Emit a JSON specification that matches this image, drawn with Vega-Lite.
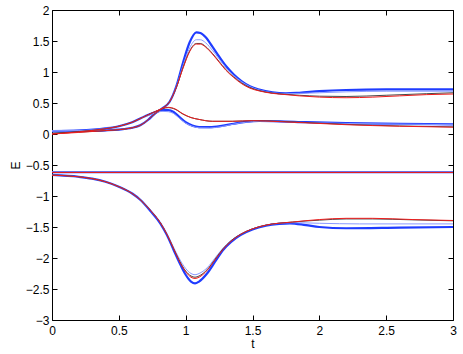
{
  "$schema": "https://vega.github.io/schema/vega-lite/v6.json",
  "width": 401,
  "height": 310,
  "autosize": "none",
  "padding": {"left": 52, "top": 10, "right": 10, "bottom": 34},
  "config": {"view": {"stroke": null}, "font": "Liberation Sans"},
  "data": {"values": [
    {"g":"A","s":"blue","t":0,"E":0.045},{"g":"A","s":"blue","t":0.2,"E":0.05},{"g":"A","s":"blue","t":0.4,"E":0.06},{"g":"A","s":"blue","t":0.5,"E":0.072},{"g":"A","s":"blue","t":0.6,"E":0.1},{"g":"A","s":"blue","t":0.66,"E":0.14},{"g":"A","s":"blue","t":0.72,"E":0.23},{"g":"A","s":"blue","t":0.77,"E":0.33},{"g":"A","s":"blue","t":0.83,"E":0.42},{"g":"A","s":"blue","t":0.88,"E":0.52},{"g":"A","s":"blue","t":0.93,"E":0.77},{"g":"A","s":"blue","t":0.98,"E":1.15},{"g":"A","s":"blue","t":1.03,"E":1.48},{"g":"A","s":"blue","t":1.08,"E":1.64},{"g":"A","s":"blue","t":1.11,"E":1.63},{"g":"A","s":"blue","t":1.15,"E":1.56},{"g":"A","s":"blue","t":1.2,"E":1.41},{"g":"A","s":"blue","t":1.25,"E":1.25},{"g":"A","s":"blue","t":1.3,"E":1.1},{"g":"A","s":"blue","t":1.36,"E":0.96},{"g":"A","s":"blue","t":1.42,"E":0.85},{"g":"A","s":"blue","t":1.48,"E":0.77},{"g":"A","s":"blue","t":1.55,"E":0.715},{"g":"A","s":"blue","t":1.65,"E":0.67},{"g":"A","s":"blue","t":1.75,"E":0.655},{"g":"A","s":"blue","t":1.85,"E":0.665},{"g":"A","s":"blue","t":2.0,"E":0.69},{"g":"A","s":"blue","t":2.2,"E":0.71},{"g":"A","s":"blue","t":2.5,"E":0.72},{"g":"A","s":"blue","t":3.0,"E":0.72},
    {"g":"A","s":"lblue","t":0,"E":0.05},{"g":"A","s":"lblue","t":0.2,"E":0.05},{"g":"A","s":"lblue","t":0.4,"E":0.06},{"g":"A","s":"lblue","t":0.5,"E":0.072},{"g":"A","s":"lblue","t":0.6,"E":0.1},{"g":"A","s":"lblue","t":0.66,"E":0.14},{"g":"A","s":"lblue","t":0.72,"E":0.23},{"g":"A","s":"lblue","t":0.77,"E":0.33},{"g":"A","s":"lblue","t":0.83,"E":0.42},{"g":"A","s":"lblue","t":0.88,"E":0.52},{"g":"A","s":"lblue","t":0.93,"E":0.76},{"g":"A","s":"lblue","t":0.98,"E":1.1},{"g":"A","s":"lblue","t":1.03,"E":1.39},{"g":"A","s":"lblue","t":1.08,"E":1.52},{"g":"A","s":"lblue","t":1.11,"E":1.52},{"g":"A","s":"lblue","t":1.15,"E":1.47},{"g":"A","s":"lblue","t":1.2,"E":1.35},{"g":"A","s":"lblue","t":1.25,"E":1.21},{"g":"A","s":"lblue","t":1.3,"E":1.07},{"g":"A","s":"lblue","t":1.36,"E":0.94},{"g":"A","s":"lblue","t":1.42,"E":0.84},{"g":"A","s":"lblue","t":1.48,"E":0.765},{"g":"A","s":"lblue","t":1.55,"E":0.71},{"g":"A","s":"lblue","t":1.65,"E":0.665},{"g":"A","s":"lblue","t":1.75,"E":0.65},{"g":"A","s":"lblue","t":1.85,"E":0.655},{"g":"A","s":"lblue","t":2.0,"E":0.665},{"g":"A","s":"lblue","t":2.2,"E":0.68},{"g":"A","s":"lblue","t":2.5,"E":0.69},{"g":"A","s":"lblue","t":3.0,"E":0.69},
    {"g":"A","s":"black","t":0,"E":0.01},{"g":"A","s":"black","t":0.2,"E":0.03},{"g":"A","s":"black","t":0.4,"E":0.055},{"g":"A","s":"black","t":0.5,"E":0.07},{"g":"A","s":"black","t":0.6,"E":0.1},{"g":"A","s":"black","t":0.66,"E":0.14},{"g":"A","s":"black","t":0.72,"E":0.23},{"g":"A","s":"black","t":0.77,"E":0.33},{"g":"A","s":"black","t":0.83,"E":0.42},{"g":"A","s":"black","t":0.88,"E":0.52},{"g":"A","s":"black","t":0.93,"E":0.75},{"g":"A","s":"black","t":0.98,"E":1.07},{"g":"A","s":"black","t":1.03,"E":1.34},{"g":"A","s":"black","t":1.08,"E":1.46},{"g":"A","s":"black","t":1.11,"E":1.46},{"g":"A","s":"black","t":1.15,"E":1.41},{"g":"A","s":"black","t":1.2,"E":1.3},{"g":"A","s":"black","t":1.25,"E":1.17},{"g":"A","s":"black","t":1.3,"E":1.04},{"g":"A","s":"black","t":1.36,"E":0.92},{"g":"A","s":"black","t":1.42,"E":0.82},{"g":"A","s":"black","t":1.48,"E":0.75},{"g":"A","s":"black","t":1.55,"E":0.7},{"g":"A","s":"black","t":1.65,"E":0.66},{"g":"A","s":"black","t":1.75,"E":0.64},{"g":"A","s":"black","t":1.85,"E":0.625},{"g":"A","s":"black","t":2.0,"E":0.61},{"g":"A","s":"black","t":2.2,"E":0.605},{"g":"A","s":"black","t":2.5,"E":0.625},{"g":"A","s":"black","t":2.8,"E":0.65},{"g":"A","s":"black","t":3.0,"E":0.665},
    {"g":"A","s":"red","t":0,"E":0.0},{"g":"A","s":"red","t":0.2,"E":0.025},{"g":"A","s":"red","t":0.4,"E":0.055},{"g":"A","s":"red","t":0.5,"E":0.07},{"g":"A","s":"red","t":0.6,"E":0.1},{"g":"A","s":"red","t":0.66,"E":0.14},{"g":"A","s":"red","t":0.72,"E":0.23},{"g":"A","s":"red","t":0.77,"E":0.33},{"g":"A","s":"red","t":0.83,"E":0.42},{"g":"A","s":"red","t":0.88,"E":0.52},{"g":"A","s":"red","t":0.93,"E":0.75},{"g":"A","s":"red","t":0.98,"E":1.06},{"g":"A","s":"red","t":1.03,"E":1.33},{"g":"A","s":"red","t":1.08,"E":1.45},{"g":"A","s":"red","t":1.11,"E":1.45},{"g":"A","s":"red","t":1.15,"E":1.4},{"g":"A","s":"red","t":1.2,"E":1.29},{"g":"A","s":"red","t":1.25,"E":1.16},{"g":"A","s":"red","t":1.3,"E":1.03},{"g":"A","s":"red","t":1.36,"E":0.91},{"g":"A","s":"red","t":1.42,"E":0.81},{"g":"A","s":"red","t":1.48,"E":0.74},{"g":"A","s":"red","t":1.55,"E":0.695},{"g":"A","s":"red","t":1.65,"E":0.655},{"g":"A","s":"red","t":1.75,"E":0.635},{"g":"A","s":"red","t":1.85,"E":0.615},{"g":"A","s":"red","t":2.0,"E":0.595},{"g":"A","s":"red","t":2.2,"E":0.585},{"g":"A","s":"red","t":2.4,"E":0.595},{"g":"A","s":"red","t":2.6,"E":0.615},{"g":"A","s":"red","t":2.8,"E":0.635},{"g":"A","s":"red","t":3.0,"E":0.645},
    {"g":"B","s":"blue","t":0,"E":0.045},{"g":"B","s":"blue","t":0.2,"E":0.055},{"g":"B","s":"blue","t":0.4,"E":0.09},{"g":"B","s":"blue","t":0.5,"E":0.125},{"g":"B","s":"blue","t":0.6,"E":0.19},{"g":"B","s":"blue","t":0.7,"E":0.29},{"g":"B","s":"blue","t":0.77,"E":0.35},{"g":"B","s":"blue","t":0.83,"E":0.385},{"g":"B","s":"blue","t":0.87,"E":0.385},{"g":"B","s":"blue","t":0.91,"E":0.355},{"g":"B","s":"blue","t":0.95,"E":0.28},{"g":"B","s":"blue","t":1.0,"E":0.19},{"g":"B","s":"blue","t":1.05,"E":0.135},{"g":"B","s":"blue","t":1.1,"E":0.112},{"g":"B","s":"blue","t":1.18,"E":0.11},{"g":"B","s":"blue","t":1.27,"E":0.13},{"g":"B","s":"blue","t":1.36,"E":0.165},{"g":"B","s":"blue","t":1.45,"E":0.195},{"g":"B","s":"blue","t":1.55,"E":0.21},{"g":"B","s":"blue","t":1.7,"E":0.205},{"g":"B","s":"blue","t":1.9,"E":0.19},{"g":"B","s":"blue","t":2.2,"E":0.175},{"g":"B","s":"blue","t":2.6,"E":0.165},{"g":"B","s":"blue","t":3.0,"E":0.155},
    {"g":"B","s":"lblue","t":0,"E":0.05},{"g":"B","s":"lblue","t":0.2,"E":0.055},{"g":"B","s":"lblue","t":0.4,"E":0.09},{"g":"B","s":"lblue","t":0.5,"E":0.125},{"g":"B","s":"lblue","t":0.6,"E":0.19},{"g":"B","s":"lblue","t":0.7,"E":0.285},{"g":"B","s":"lblue","t":0.77,"E":0.34},{"g":"B","s":"lblue","t":0.83,"E":0.365},{"g":"B","s":"lblue","t":0.87,"E":0.36},{"g":"B","s":"lblue","t":0.91,"E":0.33},{"g":"B","s":"lblue","t":0.95,"E":0.26},{"g":"B","s":"lblue","t":1.0,"E":0.175},{"g":"B","s":"lblue","t":1.05,"E":0.125},{"g":"B","s":"lblue","t":1.1,"E":0.1},{"g":"B","s":"lblue","t":1.18,"E":0.097},{"g":"B","s":"lblue","t":1.27,"E":0.12},{"g":"B","s":"lblue","t":1.36,"E":0.16},{"g":"B","s":"lblue","t":1.45,"E":0.19},{"g":"B","s":"lblue","t":1.55,"E":0.205},{"g":"B","s":"lblue","t":1.7,"E":0.2},{"g":"B","s":"lblue","t":1.9,"E":0.185},{"g":"B","s":"lblue","t":2.2,"E":0.17},{"g":"B","s":"lblue","t":2.6,"E":0.16},{"g":"B","s":"lblue","t":3.0,"E":0.15},
    {"g":"B","s":"black","t":0,"E":0.01},{"g":"B","s":"black","t":0.2,"E":0.04},{"g":"B","s":"black","t":0.4,"E":0.085},{"g":"B","s":"black","t":0.5,"E":0.125},{"g":"B","s":"black","t":0.6,"E":0.19},{"g":"B","s":"black","t":0.7,"E":0.29},{"g":"B","s":"black","t":0.77,"E":0.36},{"g":"B","s":"black","t":0.83,"E":0.41},{"g":"B","s":"black","t":0.87,"E":0.425},{"g":"B","s":"black","t":0.92,"E":0.4},{"g":"B","s":"black","t":0.98,"E":0.32},{"g":"B","s":"black","t":1.04,"E":0.265},{"g":"B","s":"black","t":1.1,"E":0.235},{"g":"B","s":"black","t":1.2,"E":0.205},{"g":"B","s":"black","t":1.35,"E":0.205},{"g":"B","s":"black","t":1.5,"E":0.215},{"g":"B","s":"black","t":1.7,"E":0.205},{"g":"B","s":"black","t":1.9,"E":0.185},{"g":"B","s":"black","t":2.2,"E":0.155},{"g":"B","s":"black","t":2.6,"E":0.13},{"g":"B","s":"black","t":3.0,"E":0.115},
    {"g":"B","s":"red","t":0,"E":0.0},{"g":"B","s":"red","t":0.2,"E":0.035},{"g":"B","s":"red","t":0.4,"E":0.085},{"g":"B","s":"red","t":0.5,"E":0.125},{"g":"B","s":"red","t":0.6,"E":0.19},{"g":"B","s":"red","t":0.7,"E":0.29},{"g":"B","s":"red","t":0.77,"E":0.36},{"g":"B","s":"red","t":0.83,"E":0.415},{"g":"B","s":"red","t":0.87,"E":0.43},{"g":"B","s":"red","t":0.92,"E":0.405},{"g":"B","s":"red","t":0.98,"E":0.325},{"g":"B","s":"red","t":1.04,"E":0.265},{"g":"B","s":"red","t":1.1,"E":0.235},{"g":"B","s":"red","t":1.2,"E":0.205},{"g":"B","s":"red","t":1.35,"E":0.205},{"g":"B","s":"red","t":1.5,"E":0.215},{"g":"B","s":"red","t":1.7,"E":0.2},{"g":"B","s":"red","t":1.9,"E":0.18},{"g":"B","s":"red","t":2.2,"E":0.15},{"g":"B","s":"red","t":2.6,"E":0.125},{"g":"B","s":"red","t":3.0,"E":0.11},
    {"g":"C","s":"blue","t":0,"E":-0.615},{"g":"C","s":"blue","t":3.0,"E":-0.615},
    {"g":"C","s":"lblue","t":0,"E":-0.61},{"g":"C","s":"lblue","t":3.0,"E":-0.61},
    {"g":"C","s":"black","t":0,"E":-0.62},{"g":"C","s":"black","t":3.0,"E":-0.62},
    {"g":"C","s":"red","t":0,"E":-0.62},{"g":"C","s":"red","t":3.0,"E":-0.62},
    {"g":"D","s":"blue","t":0,"E":-0.66},{"g":"D","s":"blue","t":0.2,"E":-0.69},{"g":"D","s":"blue","t":0.3,"E":-0.72},{"g":"D","s":"blue","t":0.4,"E":-0.77},{"g":"D","s":"blue","t":0.5,"E":-0.85},{"g":"D","s":"blue","t":0.6,"E":-0.96},{"g":"D","s":"blue","t":0.66,"E":-1.06},{"g":"D","s":"blue","t":0.74,"E":-1.25},{"g":"D","s":"blue","t":0.81,"E":-1.44},{"g":"D","s":"blue","t":0.86,"E":-1.63},{"g":"D","s":"blue","t":0.91,"E":-1.87},{"g":"D","s":"blue","t":0.95,"E":-2.06},{"g":"D","s":"blue","t":1.0,"E":-2.27},{"g":"D","s":"blue","t":1.04,"E":-2.38},{"g":"D","s":"blue","t":1.07,"E":-2.41},{"g":"D","s":"blue","t":1.1,"E":-2.38},{"g":"D","s":"blue","t":1.16,"E":-2.25},{"g":"D","s":"blue","t":1.22,"E":-2.06},{"g":"D","s":"blue","t":1.28,"E":-1.87},{"g":"D","s":"blue","t":1.34,"E":-1.74},{"g":"D","s":"blue","t":1.41,"E":-1.63},{"g":"D","s":"blue","t":1.5,"E":-1.54},{"g":"D","s":"blue","t":1.6,"E":-1.48},{"g":"D","s":"blue","t":1.7,"E":-1.45},{"g":"D","s":"blue","t":1.78,"E":-1.44},{"g":"D","s":"blue","t":1.9,"E":-1.47},{"g":"D","s":"blue","t":2.0,"E":-1.5},{"g":"D","s":"blue","t":2.2,"E":-1.52},{"g":"D","s":"blue","t":2.6,"E":-1.51},{"g":"D","s":"blue","t":3.0,"E":-1.5},
    {"g":"D","s":"lblue","t":0,"E":-0.66},{"g":"D","s":"lblue","t":0.2,"E":-0.69},{"g":"D","s":"lblue","t":0.3,"E":-0.72},{"g":"D","s":"lblue","t":0.4,"E":-0.77},{"g":"D","s":"lblue","t":0.5,"E":-0.85},{"g":"D","s":"lblue","t":0.6,"E":-0.96},{"g":"D","s":"lblue","t":0.66,"E":-1.06},{"g":"D","s":"lblue","t":0.74,"E":-1.24},{"g":"D","s":"lblue","t":0.81,"E":-1.43},{"g":"D","s":"lblue","t":0.86,"E":-1.61},{"g":"D","s":"lblue","t":0.91,"E":-1.83},{"g":"D","s":"lblue","t":0.95,"E":-2.0},{"g":"D","s":"lblue","t":1.0,"E":-2.17},{"g":"D","s":"lblue","t":1.04,"E":-2.25},{"g":"D","s":"lblue","t":1.07,"E":-2.27},{"g":"D","s":"lblue","t":1.1,"E":-2.25},{"g":"D","s":"lblue","t":1.16,"E":-2.16},{"g":"D","s":"lblue","t":1.22,"E":-2.0},{"g":"D","s":"lblue","t":1.28,"E":-1.84},{"g":"D","s":"lblue","t":1.34,"E":-1.72},{"g":"D","s":"lblue","t":1.41,"E":-1.62},{"g":"D","s":"lblue","t":1.5,"E":-1.53},{"g":"D","s":"lblue","t":1.6,"E":-1.47},{"g":"D","s":"lblue","t":1.7,"E":-1.44},{"g":"D","s":"lblue","t":1.8,"E":-1.43},{"g":"D","s":"lblue","t":2.0,"E":-1.44},{"g":"D","s":"lblue","t":2.3,"E":-1.45},{"g":"D","s":"lblue","t":3.0,"E":-1.45},
    {"g":"D","s":"black","t":0,"E":-0.66},{"g":"D","s":"black","t":0.2,"E":-0.69},{"g":"D","s":"black","t":0.3,"E":-0.72},{"g":"D","s":"black","t":0.4,"E":-0.77},{"g":"D","s":"black","t":0.5,"E":-0.85},{"g":"D","s":"black","t":0.6,"E":-0.96},{"g":"D","s":"black","t":0.66,"E":-1.06},{"g":"D","s":"black","t":0.74,"E":-1.24},{"g":"D","s":"black","t":0.81,"E":-1.43},{"g":"D","s":"black","t":0.86,"E":-1.62},{"g":"D","s":"black","t":0.91,"E":-1.85},{"g":"D","s":"black","t":0.95,"E":-2.03},{"g":"D","s":"black","t":1.0,"E":-2.21},{"g":"D","s":"black","t":1.04,"E":-2.29},{"g":"D","s":"black","t":1.07,"E":-2.31},{"g":"D","s":"black","t":1.1,"E":-2.29},{"g":"D","s":"black","t":1.16,"E":-2.19},{"g":"D","s":"black","t":1.22,"E":-2.02},{"g":"D","s":"black","t":1.28,"E":-1.85},{"g":"D","s":"black","t":1.34,"E":-1.72},{"g":"D","s":"black","t":1.41,"E":-1.62},{"g":"D","s":"black","t":1.5,"E":-1.53},{"g":"D","s":"black","t":1.6,"E":-1.47},{"g":"D","s":"black","t":1.8,"E":-1.42},{"g":"D","s":"black","t":2.0,"E":-1.39},{"g":"D","s":"black","t":2.2,"E":-1.37},{"g":"D","s":"black","t":2.4,"E":-1.37},{"g":"D","s":"black","t":2.7,"E":-1.385},{"g":"D","s":"black","t":3.0,"E":-1.4},
    {"g":"D","s":"red","t":0,"E":-0.665},{"g":"D","s":"red","t":0.2,"E":-0.69},{"g":"D","s":"red","t":0.3,"E":-0.72},{"g":"D","s":"red","t":0.4,"E":-0.77},{"g":"D","s":"red","t":0.5,"E":-0.85},{"g":"D","s":"red","t":0.6,"E":-0.96},{"g":"D","s":"red","t":0.66,"E":-1.06},{"g":"D","s":"red","t":0.74,"E":-1.24},{"g":"D","s":"red","t":0.81,"E":-1.43},{"g":"D","s":"red","t":0.86,"E":-1.62},{"g":"D","s":"red","t":0.91,"E":-1.85},{"g":"D","s":"red","t":0.95,"E":-2.04},{"g":"D","s":"red","t":1.0,"E":-2.22},{"g":"D","s":"red","t":1.04,"E":-2.31},{"g":"D","s":"red","t":1.07,"E":-2.33},{"g":"D","s":"red","t":1.1,"E":-2.31},{"g":"D","s":"red","t":1.16,"E":-2.2},{"g":"D","s":"red","t":1.22,"E":-2.03},{"g":"D","s":"red","t":1.28,"E":-1.86},{"g":"D","s":"red","t":1.34,"E":-1.73},{"g":"D","s":"red","t":1.41,"E":-1.62},{"g":"D","s":"red","t":1.5,"E":-1.53},{"g":"D","s":"red","t":1.6,"E":-1.47},{"g":"D","s":"red","t":1.8,"E":-1.42},{"g":"D","s":"red","t":2.0,"E":-1.38},{"g":"D","s":"red","t":2.2,"E":-1.36},{"g":"D","s":"red","t":2.4,"E":-1.36},{"g":"D","s":"red","t":2.7,"E":-1.38},{"g":"D","s":"red","t":3.0,"E":-1.395}
  ]},
  "resolve": {"axis": {"x": "independent", "y": "independent"}},
  "layer": [
    {
      "transform": [{"filter": "datum.s === 'blue'"}],
      "mark": {"type": "line", "color": "#1f3cff", "strokeWidth": 2.2, "interpolate": "monotone"},
      "encoding": {
        "detail": {"field": "g"},
        "x": {"field": "t", "type": "quantitative", "scale": {"domain": [0, 3], "nice": false},
          "axis": {"orient": "bottom", "title": "t", "format": "~g", "values": [0, 0.5, 1, 1.5, 2, 2.5, 3], "grid": false, "tickSize": -5, "tickColor": "#000", "domainColor": "#000", "labelColor": "#000", "labelFontSize": 12, "labelPadding": 10, "labelFlush": false, "titleFontSize": 12, "titleFontWeight": "normal", "titleColor": "#000", "titlePadding": 2}},
        "y": {"field": "E", "type": "quantitative", "scale": {"domain": [-3, 2], "nice": false, "zero": false},
          "axis": {"orient": "left", "title": "E", "format": "~g", "values": [-3, -2.5, -2, -1.5, -1, -0.5, 0, 0.5, 1, 1.5, 2], "grid": false, "tickSize": -5, "tickColor": "#000", "domainColor": "#000", "labelColor": "#000", "labelFontSize": 12, "labelPadding": 8, "labelFlush": false, "titleFontSize": 12, "titleFontWeight": "normal", "titleColor": "#000", "titlePadding": 3}}
      }
    },
    {
      "transform": [{"filter": "datum.s === 'lblue'"}],
      "mark": {"type": "line", "color": "#8a9aff", "strokeWidth": 1, "interpolate": "monotone"},
      "encoding": {
        "detail": {"field": "g"},
        "x": {"field": "t", "type": "quantitative", "axis": null},
        "y": {"field": "E", "type": "quantitative", "axis": null}
      }
    },
    {
      "transform": [{"filter": "datum.s === 'black'"}],
      "mark": {"type": "line", "color": "#333333", "strokeWidth": 0.9, "interpolate": "monotone"},
      "encoding": {
        "detail": {"field": "g"},
        "x": {"field": "t", "type": "quantitative", "axis": null},
        "y": {"field": "E", "type": "quantitative", "axis": null}
      }
    },
    {
      "transform": [{"filter": "datum.s === 'red'"}],
      "mark": {"type": "line", "color": "#ee1c1c", "strokeWidth": 1, "interpolate": "monotone"},
      "encoding": {
        "detail": {"field": "g"},
        "x": {"field": "t", "type": "quantitative",
          "axis": {"orient": "top", "title": null, "labels": false, "values": [0, 0.5, 1, 1.5, 2, 2.5, 3], "grid": false, "tickSize": -5, "tickColor": "#000", "domainColor": "#000"}},
        "y": {"field": "E", "type": "quantitative",
          "axis": {"orient": "right", "title": null, "labels": false, "values": [-3, -2.5, -2, -1.5, -1, -0.5, 0, 0.5, 1, 1.5, 2], "grid": false, "tickSize": -5, "tickColor": "#000", "domainColor": "#000"}}
      }
    }
  ]
}
